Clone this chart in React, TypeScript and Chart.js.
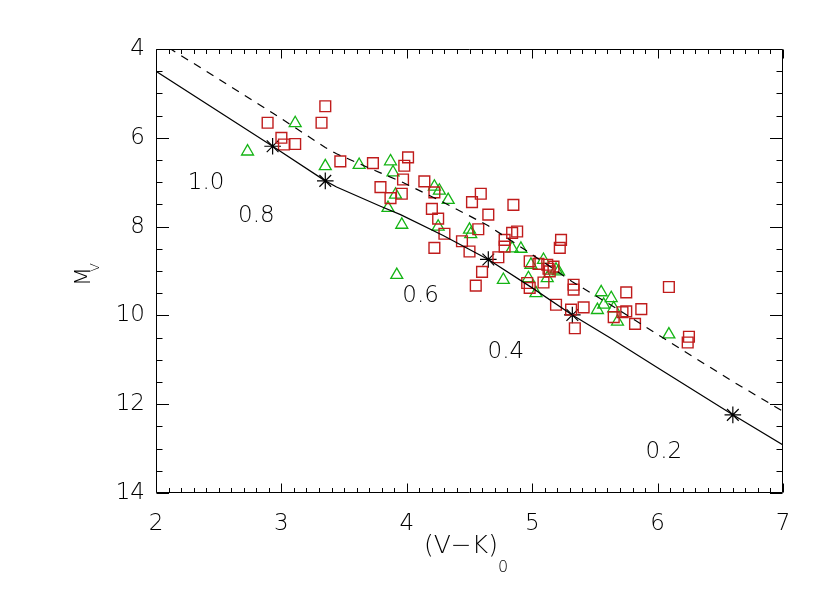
import React, { useEffect, useRef } from 'react';
import { Chart, registerables } from 'chart.js';

Chart.register(...registerables);

// ---- data ----
const squareX = [2.89, 3.35, 3.32, 3.00, 3.02, 3.11, 3.47, 3.73, 4.01, 3.98, 3.97, 4.14, 3.79, 3.96, 3.87,
  4.22, 4.59, 4.52, 4.85, 4.20, 4.65, 4.25, 4.30, 4.57, 4.44, 4.50, 4.22, 4.84, 4.88, 4.78,
  4.78, 4.73, 4.60, 4.55, 5.23, 5.22, 4.98, 5.05, 5.12, 5.17, 5.14, 5.09, 4.96, 4.98, 5.33,
  5.33, 5.19, 5.31, 5.41, 5.34, 5.75, 6.09, 5.75, 5.87, 5.65, 5.72, 5.82, 6.25, 6.24, 5.13];
const squareY = [5.66, 5.29, 5.66, 6.00, 6.15, 6.14, 6.53, 6.57, 6.44, 6.63, 6.94, 6.98, 7.11, 7.26, 7.36,
  7.23, 7.26, 7.45, 7.51, 7.60, 7.73, 7.82, 8.16, 8.06, 8.33, 8.56, 8.48, 8.14, 8.11, 8.30,
  8.45, 8.69, 9.02, 9.33, 8.30, 8.48, 8.78, 8.84, 8.86, 8.90, 9.01, 9.26, 9.27, 9.38, 9.31,
  9.42, 9.76, 9.87, 9.82, 10.29, 9.48, 9.36, 9.91, 9.86, 10.04, 9.93, 10.19, 10.48, 10.61, 8.95];

const triangleX = [2.73, 3.11, 3.35, 3.62, 3.87, 3.89, 3.91, 3.85, 3.96, 3.92, 4.22, 4.26, 4.33, 4.25,
  4.50, 4.51, 4.84, 4.91, 4.77, 4.99, 5.09, 4.97, 5.19, 5.21, 5.12, 5.03, 5.55, 5.63, 5.57,
  5.52, 5.65, 5.68, 6.09];
const triangleY = [6.31, 5.67, 6.64, 6.61, 6.53, 6.78, 7.28, 7.58, 7.96, 9.09, 7.10, 7.19, 7.40, 8.00,
  8.07, 8.17, 8.49, 8.50, 9.20, 8.86, 8.75, 9.16, 8.97, 9.01, 9.16, 9.50, 9.48, 9.61, 9.76,
  9.88, 9.84, 10.14, 10.43];

const starX = [2.93, 3.35, 4.65, 5.32, 6.60];
const starY = [6.19, 6.97, 8.74, 9.99, 12.24];

const solidX = [2.00, 2.93, 3.35, 3.44, 3.79, 3.95, 4.29, 4.65, 5.00, 5.32, 5.63, 6.00, 6.60, 7.00];
const solidY = [4.50, 6.19, 6.97, 7.11, 7.54, 7.73, 8.20, 8.74, 9.38, 9.99, 10.52, 11.18, 12.24, 12.92];

const dashX = [2.10, 2.93, 3.35, 3.44, 3.79, 3.95, 4.29, 4.65, 5.00, 5.32, 5.63, 6.00, 6.60, 7.00];
const dashY = [3.97, 5.44, 6.22, 6.36, 6.79, 6.98, 7.45, 7.98, 8.63, 9.24, 9.77, 10.43, 11.49, 12.16];

const massLabels = ['1.0', '0.8', '0.6', '0.4', '0.2'];
const massX = [2.40, 2.80, 4.11, 4.79, 6.05];
const massY = [7.02, 7.77, 9.57, 10.82, 13.08];

const xMin = 2, xMax = 7, xStep = 1, xMinorStep = 0.1;
const yMin = 4, yMax = 14, yStep = 2, yMinorStep = 0.5;

const FONT = "'DejaVu Sans', 'Liberation Sans', sans-serif";
const SQUARE_COLOR = '#c01c1c';
const TRIANGLE_COLOR = '#14b414';

const pts = (xs: number[], ys: number[]) => xs.map((x, i) => ({ x, y: ys[i] }));

const framePlugin = {
  id: 'frame',
  afterDraw(chart: any) {
    const { ctx, chartArea: a, scales } = chart;
    const xs = scales.x, ys = scales.y;
    const L = Math.round(a.left) + 0.5, R = Math.round(a.right) - 0.5;
    const T = Math.round(a.top) + 0.5, B = Math.round(a.bottom) - 0.5;
    ctx.save();
    ctx.strokeStyle = '#000';
    ctx.lineWidth = 1;
    ctx.beginPath();
    ctx.rect(L, T, R - L, B - T);
    const nx = Math.round((xMax - xMin) / xMinorStep);
    for (let i = 0; i <= nx; i++) {
      const v = xMin + i * xMinorStep;
      const px = Math.round(xs.getPixelForValue(v)) + 0.5;
      const major = i % Math.round(xStep / xMinorStep) === 0;
      const len = major ? 9 : 4.5;
      ctx.moveTo(px, B); ctx.lineTo(px, B - len);
      ctx.moveTo(px, T); ctx.lineTo(px, T + len);
    }
    const ny = Math.round((yMax - yMin) / yMinorStep);
    for (let i = 0; i <= ny; i++) {
      const v = yMin + i * yMinorStep;
      const py = Math.round(ys.getPixelForValue(v)) + 0.5;
      const major = i % Math.round(yStep / yMinorStep) === 0;
      const len = major ? 12.5 : 6;
      ctx.moveTo(L, py); ctx.lineTo(L + len, py);
      ctx.moveTo(R, py); ctx.lineTo(R - len, py);
    }
    ctx.stroke();

    // mass labels
    ctx.fillStyle = '#000';
    ctx.font = `300 23px ${FONT}`;
    ctx.textAlign = 'center';
    ctx.textBaseline = 'middle';
    massLabels.forEach((t, i) => {
      ctx.fillText(t, xs.getPixelForValue(massX[i]), ys.getPixelForValue(massY[i]));
    });

    // x axis title: (V-K)_0
    ctx.textAlign = 'left';
    ctx.textBaseline = 'alphabetic';
    ctx.font = `300 25px ${FONT}`;
    const main = '(V\u2212K)';
    const w = ctx.measureText(main).width;
    const x0 = 424;
    ctx.fillText(main, x0, 553);
    ctx.font = `300 16px ${FONT}`;
    ctx.fillText('0', x0 + w, 572);

    // y axis title: M_V (rotated)
    ctx.save();
    ctx.translate(90, 286);
    ctx.rotate(-Math.PI / 2);
    ctx.font = `300 22px ${FONT}`;
    ctx.fillText('M', 0, 0);
    ctx.font = `300 13px ${FONT}`;
    ctx.fillText('V', 14, 9);
    ctx.restore();

    ctx.restore();
  },
};

export default function App() {
  const ref = useRef<HTMLCanvasElement | null>(null);
  useEffect(() => {
    document.body.style.margin = '0';
    const canvas = ref.current;
    if (!canvas) return;
    const chart = new Chart(canvas, {
      type: 'scatter',
      data: {
        datasets: [
          {
            label: 'solid',
            data: pts(solidX, solidY),
            showLine: true,
            borderColor: '#000',
            borderWidth: 1.2,
            pointRadius: 0,
            tension: 0,
          },
          {
            label: 'dashed',
            data: pts(dashX, dashY),
            showLine: true,
            borderColor: '#000',
            borderWidth: 1.2,
            borderDash: [8, 7],
            pointRadius: 0,
            tension: 0,
          },
          {
            label: 'squares',
            data: pts(squareX, squareY),
            pointStyle: 'rect',
            pointRadius: 7.6,
            borderColor: SQUARE_COLOR,
            backgroundColor: 'rgba(0,0,0,0)',
            borderWidth: 1.4,
          },
          {
            label: 'triangles',
            data: pts(triangleX, triangleY),
            pointStyle: 'triangle',
            pointRadius: 6.9,
            borderColor: TRIANGLE_COLOR,
            backgroundColor: 'rgba(0,0,0,0)',
            borderWidth: 1.3,
          },
          {
            label: 'stars',
            data: pts(starX, starY),
            pointStyle: 'star',
            pointRadius: 8.3,
            borderColor: '#000',
            backgroundColor: '#000',
            borderWidth: 1.2,
          },
        ],
      },
      options: {
        responsive: false,
        animation: false,
        events: [],
        layout: { padding: { top: 49, right: 47, left: 0, bottom: 0 } },
        plugins: { legend: { display: false }, tooltip: { enabled: false } },
        scales: {
          x: {
            type: 'linear',
            min: xMin,
            max: xMax,
            grid: { display: false, drawTicks: false },
            border: { display: false },
            ticks: {
              stepSize: xStep,
              autoSkip: false,
              color: '#000',
              padding: 17,
              font: { family: FONT, size: 23, weight: '300' as any },
              callback: (v: any) => String(v),
            },
            afterFit: (s: any) => { s.height = 100; },
          },
          y: {
            type: 'linear',
            min: yMin,
            max: yMax,
            reverse: true,
            grid: { display: false, drawTicks: false },
            border: { display: false },
            ticks: {
              stepSize: yStep,
              autoSkip: false,
              color: '#000',
              padding: 11,
              font: { family: FONT, size: 23, weight: '300' as any },
              callback: (v: any) => String(v),
            },
            afterFit: (s: any) => { s.width = 156; },
          },
        },
      },
      plugins: [framePlugin],
    });
    return () => chart.destroy();
  }, []);
  return (
    <div style={{ width: 830, height: 593 }}>
      <canvas ref={ref} width={830} height={593} />
    </div>
  );
}
